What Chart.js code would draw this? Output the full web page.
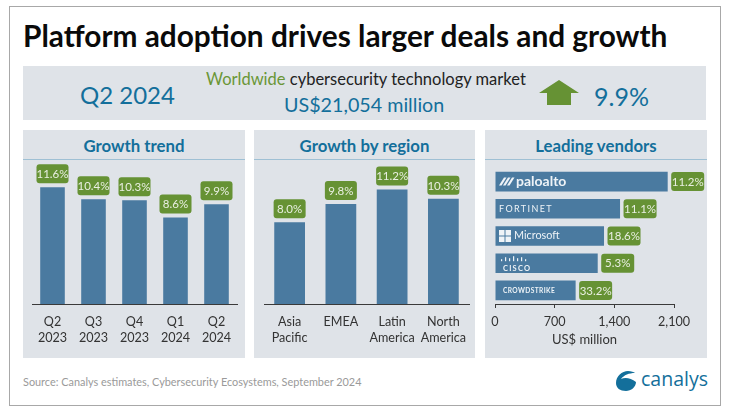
<!DOCTYPE html>
<html>
<head>
<meta charset="utf-8">
<script src="https://cdn.jsdelivr.net/npm/chart.js@4"></script>
<style>
  html, body { margin: 0; padding: 0; background: #fff; }
  body { width: 734px; height: 412px; position: relative; overflow: hidden; font-family: Lato, sans-serif; }
  .frame { position: absolute; left: 9px; top: 6px; width: 710px; height: 398px; border: 1px solid #a8a8a8; }
  .box { position: absolute; background: #dfe3e8; }
  .txt { position: absolute; white-space: nowrap; line-height: 1; }
  .blue { color: #136f9b; }
  .head { position: absolute; top: 130px; height: 29px; line-height: 32px; text-align: center; font-weight: bold; font-size: 16.8px; color: #136f9b; border-bottom: 1px solid #9fc0d4; }
  canvas { position: absolute; }
</style>
</head>
<body>
<div class="frame"></div>
<div class="txt" style="left:23px;top:21px;font-size:29.8px;font-weight:bold;color:#0a0a0a">Platform adoption drives larger deals and growth</div>

<div class="box" style="left:23px;top:66px;width:683px;height:54px"></div>
<div class="txt blue" style="left:80px;top:83px;font-size:24px">Q2 2024</div>
<div class="txt" style="left:206px;top:71px;font-size:16.5px;color:#222"><span style="color:#6a9636">Worldwide</span> cybersecurity technology market</div>
<div class="txt blue" style="left:284px;top:95px;font-size:19.7px">US$21,054 million</div>
<svg style="position:absolute;left:538px;top:79px" width="43" height="27"><path d="M21 1 L41 14 L33 14 L33 26 L9 26 L9 14 L1 14 Z" fill="#669234"/></svg>
<div class="txt blue" style="left:594px;top:84px;font-size:25px">9.9%</div>

<div class="box" style="left:23px;top:130px;width:222px;height:228px"></div>
<div class="box" style="left:254px;top:130px;width:221px;height:228px"></div>
<div class="box" style="left:485px;top:130px;width:222px;height:228px"></div>
<div class="head" style="left:23px;width:222px">Growth trend</div>
<div class="head" style="left:254px;width:221px">Growth by region</div>
<div class="head" style="left:485px;width:222px">Leading vendors</div>

<canvas id="trend" style="left:23px;top:160px"></canvas>
<canvas id="region" style="left:254px;top:160px"></canvas>
<canvas id="vendors" style="left:485px;top:160px"></canvas>

<div class="txt" style="left:23px;top:377px;font-size:10.9px;color:#9a9a9a">Source: Canalys estimates, Cybersecurity Ecosystems, September 2024</div>
<svg style="position:absolute;left:615px;top:370px" width="23" height="22"><path d="M1 13 C1 6 7 1 13 1 C16 1 19 2 20 3 C14 3 9 5 6 9 C10 7 16 8 21 12 C21 17 16 21 11 21 C5 21 1 18 1 13 Z" fill="#136f9b"/></svg>
<div class="txt blue" style="left:641px;top:369px;font-size:19.5px;font-family:'Open Sans',sans-serif">canalys</div>

<script>
const trendLabels = [['Q2', '2023'], ['Q3', '2023'], ['Q4', '2023'], ['Q1', '2024'], ['Q2', '2024']];
const trendValues = [11.6, 10.4, 10.3, 8.6, 9.9];

const regionLabels = [['Asia', 'Pacific'], ['EMEA'], ['Latin', 'America'], ['North', 'America']];
const regionValues = [8.0, 9.8, 11.2, 10.3];

const vendorNames = ['paloalto', 'FORTINET', 'Microsoft', 'CISCO', 'CROWDSTRIKE'];
const vendorValues = [2026, 1467, 1279, 1205, 946];
const vendorGrowth = [11.2, 11.1, 18.6, 5.3, 33.2];

const BAR_BLUE = '#4a7aa0';
const GREEN = '#669234';
const FONT = 'Lato, sans-serif';

// Caja verde con el porcentaje
function etiqueta(ctx, x, y, w, h, texto) {
  ctx.save();
  ctx.beginPath();
  ctx.roundRect(x, y, w, h, 3);
  ctx.fillStyle = GREEN;
  ctx.fill();
  ctx.fillStyle = '#e9efe2';
  ctx.font = '11.5px ' + FONT;
  ctx.textAlign = 'center';
  ctx.textBaseline = 'middle';
  ctx.fillText(texto, x + w / 2, y + h / 2 + 0.5);
  ctx.restore();
}

const etiquetasArriba = {
  id: 'etiquetasArriba',
  afterDatasetsDraw(chart) {
    const meta = chart.getDatasetMeta(0);
    meta.data.forEach((bar, i) => {
      const texto = chart.data.datasets[0].data[i].toFixed(1) + '%';
      etiqueta(chart.ctx, bar.x - 16, bar.y - 23, 32, 19, texto);
    });
  }
};

// Nombres de los vendedores dentro de las barras, y su crecimiento al lado
const etiquetasVendors = {
  id: 'etiquetasVendors',
  afterDatasetsDraw(chart) {
    const ctx = chart.ctx;
    chart.getDatasetMeta(0).data.forEach((bar, i) => {
      etiqueta(ctx, bar.x + 3.5, bar.y - 9.5, 33, 19, vendorGrowth[i].toFixed(1) + '%');

      const left = chart.scales.x.left;
      ctx.save();
      ctx.fillStyle = '#eef3f7';
      ctx.textBaseline = 'middle';
      ctx.textAlign = 'left';
      const name = vendorNames[i];
      if (name === 'paloalto') {
        // franjas inclinadas del logo
        for (let k = 0; k < 3; k++) {
          const x0 = left + 4 + k * 4;
          ctx.beginPath();
          ctx.moveTo(x0, bar.y + 4);
          ctx.lineTo(x0 + 5, bar.y - 4);
          ctx.lineTo(x0 + 7.5, bar.y - 4);
          ctx.lineTo(x0 + 2.5, bar.y + 4);
          ctx.closePath();
          ctx.fill();
        }
        ctx.font = 'bold 14px ' + FONT;
        ctx.fillText(name, left + 21, bar.y - 0.5);
      } else if (name === 'FORTINET') {
        ctx.font = '9px ' + FONT;
        ctx.letterSpacing = '1.4px';
        ctx.fillText(name, left + 4, bar.y);
      } else if (name === 'Microsoft') {
        ctx.fillRect(left + 4, bar.y - 6, 5.5, 5.5);
        ctx.fillRect(left + 10.5, bar.y - 6, 5.5, 5.5);
        ctx.fillRect(left + 4, bar.y + 0.5, 5.5, 5.5);
        ctx.fillRect(left + 10.5, bar.y + 0.5, 5.5, 5.5);
        ctx.font = '10.8px ' + FONT;
        ctx.fillText(name, left + 19, bar.y - 0.5);
      } else if (name === 'CISCO') {
        [2, 4, 3, 5, 3, 4, 2].forEach((h, k) => ctx.fillRect(left + 6 + k * 4, bar.y - 2 - h, 1.2, h));
        ctx.font = 'bold 7.5px ' + FONT;
        ctx.letterSpacing = '1.2px';
        ctx.fillText(name, left + 8, bar.y + 5);
      } else {
        ctx.font = 'bold 6.6px ' + FONT;
        ctx.letterSpacing = '0.4px';
        ctx.fillText(name, left + 8, bar.y + 0.5);
      }
      ctx.restore();
    });
  }
};

function crearColumnas(id, width, labels, values, maxY, paddingLeft, paddingRight) {
  const canvas = document.getElementById(id);
  canvas.width = width;
  canvas.height = 198;
  canvas.style.width = width + 'px';
  canvas.style.height = '198px';
  return new Chart(canvas.getContext('2d'), {
    type: 'bar',
    data: {
      labels: labels,
      datasets: [{
        data: values,
        backgroundColor: BAR_BLUE,
        categoryPercentage: 1,
        barPercentage: 0.6
      }]
    },
    options: {
      responsive: false,
      animation: false,
      layout: { padding: { left: paddingLeft, right: paddingRight, top: 0, bottom: 0 } },
      plugins: { legend: { display: false }, tooltip: { enabled: false } },
      scales: {
        x: {
          afterFit(scale) { scale.height = 54; },
          grid: { display: false },
          border: { color: '#3a3a3a' },
          ticks: {
            color: '#333',
            font: { family: FONT, size: 12.6, lineHeight: 1.28 },
            padding: 2,
            maxRotation: 0,
            autoSkip: false
          }
        },
        y: { display: false, min: 0, max: maxY }
      }
    },
    plugins: [etiquetasArriba]
  });
}

crearColumnas('trend', 222, trendLabels, trendValues, 14.3, 9, 8);
crearColumnas('region', 221, regionLabels, regionValues, 14.1, 10, 6);

const vendorsCanvas = document.getElementById('vendors');
vendorsCanvas.width = 222;
vendorsCanvas.height = 198;
vendorsCanvas.style.width = '222px';
vendorsCanvas.style.height = '198px';
new Chart(vendorsCanvas.getContext('2d'), {
  type: 'bar',
  data: {
    labels: vendorNames,
    datasets: [{
      data: vendorValues,
      backgroundColor: BAR_BLUE,
      categoryPercentage: 1,
      barPercentage: 0.72
    }]
  },
  options: {
    indexAxis: 'y',
    responsive: false,
    animation: false,
    layout: { padding: { left: 10, right: 33, top: 8, bottom: 10 } },
    plugins: { legend: { display: false }, tooltip: { enabled: false } },
    scales: {
      x: {
        min: 0,
        max: 2100,
        afterFit(scale) { scale.height = 44; },
        grid: { drawOnChartArea: false, drawTicks: true, tickLength: 4, color: '#3a3a3a' },
        border: { color: '#3a3a3a' },
        title: { display: true, text: 'US$ million', color: '#333', font: { family: FONT, size: 13 }, padding: { top: 0, bottom: 0 } },
        ticks: {
          stepSize: 700,
          color: '#333',
          font: { family: FONT, size: 12.6 },
          padding: 6,
          maxRotation: 0,
          callback: v => v.toLocaleString('en-US')
        }
      },
      y: { display: false }
    }
  },
  plugins: [etiquetasVendors]
});
</script>
</body>
</html>
